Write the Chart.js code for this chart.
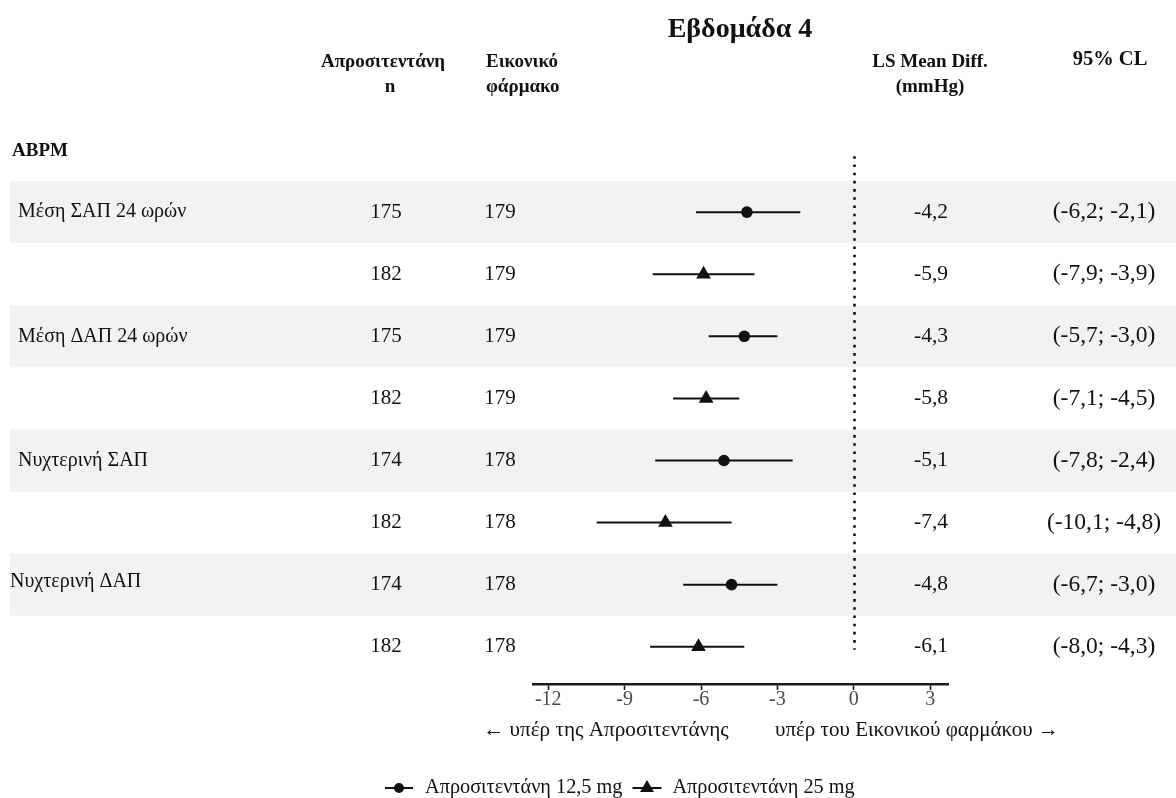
<!DOCTYPE html>
<html lang="el">
<head>
<meta charset="utf-8">
<title>Εβδομάδα 4 – ABPM</title>
<script src="https://cdn.jsdelivr.net/npm/chart.js@4.4.1/dist/chart.umd.min.js"></script>
<style>
  html, body { margin: 0; padding: 0; background: #ffffff; }
  #wrap { width: 1176px; height: 798px; position: relative; }
  canvas { display: block; }
</style>
</head>
<body>
<div id="wrap"><canvas id="forest" width="1176" height="798"></canvas></div>
<script>
// ---- data ----
const rowLabels   = ["Μέση ΣΑΠ 24 ωρών", "", "Μέση ΔΑΠ 24 ωρών", "", "Νυχτερινή ΣΑΠ", "", "Νυχτερινή ΔΑΠ", ""];
const doseArm     = ["12.5", "25", "12.5", "25", "12.5", "25", "12.5", "25"];
const nAprocitentan = [175, 182, 175, 182, 174, 182, 174, 182];
const nPlacebo      = [179, 179, 179, 179, 178, 178, 178, 178];
const lsMeanDiff    = [-4.2, -5.9, -4.3, -5.8, -5.1, -7.4, -4.8, -6.1];
const ciLower       = [-6.2, -7.9, -5.7, -7.1, -7.8, -10.1, -6.7, -8.0];
const ciUpper       = [-2.1, -3.9, -3.0, -4.5, -2.4, -4.8, -3.0, -4.3];
const xTickValues   = [-12, -9, -6, -3, 0, 3];
const legendLabels  = ["Απροσιτεντάνη 12,5 mg", "Απροσιτεντάνη 25 mg"];

// ---- helpers ----
const SERIF = '"Liberation Serif", "DejaVu Serif", serif';
const INK = '#111111';
const fmt = v => v.toFixed(1).replace('.', ',');
const rowIdx = rowLabels.map((_, i) => i);

const circlePts   = rowIdx.filter(i => doseArm[i] === "12.5").map(i => ({ x: lsMeanDiff[i], y: i }));
const trianglePts = rowIdx.filter(i => doseArm[i] === "25").map(i => ({ x: lsMeanDiff[i], y: i }));

function text(ctx, str, x, y, opts = {}) {
  ctx.save();
  ctx.font = `${opts.bold ? 'bold ' : ''}${opts.size || 21}px ${SERIF}`;
  ctx.fillStyle = opts.color || INK;
  ctx.textAlign = opts.align || 'left';
  ctx.textBaseline = 'middle';
  ctx.fillText(str, x, y);
  const w = ctx.measureText(str).width;
  ctx.restore();
  return w;
}

// striped row bands behind everything
const bandsPlugin = {
  id: 'bands',
  beforeDraw(chart) {
    const { ctx } = chart;
    const ys = chart.scales.y;
    ctx.save();
    ctx.fillStyle = '#f2f2f2';
    rowIdx.forEach(i => {
      if (i % 2 !== 0) return;
      const top = ys.getPixelForValue(i - 0.5);
      const bot = ys.getPixelForValue(i + 0.5);
      ctx.fillRect(10, top, chart.width - 10, bot - top);
    });
    ctx.restore();
  }
};

// confidence interval whiskers and the zero reference line
const whiskerPlugin = {
  id: 'whiskers',
  beforeDatasetsDraw(chart) {
    const { ctx } = chart;
    const xs = chart.scales.x, ys = chart.scales.y;
    ctx.save();
    // dotted line at zero
    const x0 = Math.round(xs.getPixelForValue(0)) + 0.5;
    ctx.strokeStyle = INK;
    ctx.lineWidth = 2.6;
    ctx.setLineDash([2.6, 5.6]);
    ctx.beginPath();
    ctx.moveTo(x0, ys.getPixelForValue(-0.9));
    ctx.lineTo(x0, ys.getPixelForValue(7.05));
    ctx.stroke();
    ctx.setLineDash([]);
    // CI lines
    ctx.lineWidth = 2;
    ctx.strokeStyle = INK;
    rowIdx.forEach(i => {
      const y = ys.getPixelForValue(i);
      ctx.beginPath();
      ctx.moveTo(xs.getPixelForValue(ciLower[i]), y);
      ctx.lineTo(xs.getPixelForValue(ciUpper[i]), y);
      ctx.stroke();
    });
    ctx.restore();
  }
};

// table columns, headers, axis captions and legend
const tablePlugin = {
  id: 'table',
  afterDraw(chart) {
    const { ctx } = chart;
    const ys = chart.scales.y;

    text(ctx, 'Εβδομάδα 4', 740, 30, { bold: true, size: 28, align: 'center' });
    text(ctx, 'Απροσιτεντάνη', 383, 62, { bold: true, size: 19, align: 'center' });
    text(ctx, 'n', 390, 87, { bold: true, size: 19, align: 'center' });
    text(ctx, 'Εικονικό', 486, 62, { bold: true, size: 19 });
    text(ctx, 'φάρμακο', 486, 87, { bold: true, size: 19 });
    text(ctx, 'LS Mean Diff.', 930, 62, { bold: true, size: 19, align: 'center' });
    text(ctx, '(mmHg)', 930, 87, { bold: true, size: 19, align: 'center' });
    text(ctx, '95% CL', 1110, 60, { bold: true, size: 20.5, align: 'center' });
    text(ctx, 'ABPM', 12, 151, { bold: true, size: 19 });

    rowIdx.forEach(i => {
      const y = ys.getPixelForValue(i);
      if (rowLabels[i]) text(ctx, rowLabels[i], i === 6 ? 10 : 18, i === 6 ? y - 3 : y, { size: 20 });
      text(ctx, String(nAprocitentan[i]), 386, y, { align: 'center' });
      text(ctx, String(nPlacebo[i]), 500, y, { align: 'center' });
      text(ctx, fmt(lsMeanDiff[i]), 948, y, { align: 'right', size: 21.5 });
      text(ctx, '(' + fmt(ciLower[i]) + '; ' + fmt(ciUpper[i]) + ')', 1104, y, { align: 'center', size: 23.5 });
    });

    text(ctx, '← υπέρ της Απροσιτεντάνης', 483, 730, { size: 21.2 });
    text(ctx, 'υπέρ του Εικονικού φαρμάκου →', 775, 730, { size: 21 });

    // legend
    const ly = 788;
    ctx.save();
    ctx.strokeStyle = INK; ctx.fillStyle = INK; ctx.lineWidth = 2;
    ctx.beginPath(); ctx.moveTo(385, ly); ctx.lineTo(413, ly); ctx.stroke();
    ctx.beginPath(); ctx.arc(399, ly, 5, 0, Math.PI * 2); ctx.fill();
    ctx.restore();
    const w1 = text(ctx, legendLabels[0], 425, ly, { size: 20.3 });
    const tx = 425 + w1 + 10;
    ctx.save();
    ctx.strokeStyle = INK; ctx.fillStyle = INK; ctx.lineWidth = 2;
    ctx.beginPath(); ctx.moveTo(tx, ly); ctx.lineTo(tx + 29, ly); ctx.stroke();
    const tc = tx + 14.5;
    ctx.beginPath();
    ctx.moveTo(tc, ly - 8); ctx.lineTo(tc + 7, ly + 4); ctx.lineTo(tc - 7, ly + 4);
    ctx.closePath(); ctx.fill();
    ctx.restore();
    text(ctx, legendLabels[1], tx + 40, ly, { size: 20.3 });
  }
};

new Chart(document.getElementById('forest'), {
  type: 'scatter',
  data: {
    datasets: [
      { label: legendLabels[0], data: circlePts, pointStyle: 'circle', pointRadius: 5.8,
        backgroundColor: INK, borderColor: INK, borderWidth: 0 },
      { label: legendLabels[1], data: trianglePts, pointStyle: 'triangle', pointRadius: 8.5,
        backgroundColor: INK, borderColor: INK, borderWidth: 0 }
    ]
  },
  options: {
    responsive: false,
    animation: false,
    events: [],
    layout: { padding: { left: 533, right: 228, top: 119, bottom: 0 } },
    plugins: { legend: { display: false }, tooltip: { enabled: false }, title: { display: false } },
    scales: {
      x: {
        type: 'linear',
        min: -12.6, max: 3.7,
        afterBuildTicks(scale) { scale.ticks = xTickValues.map(v => ({ value: v })); },
        afterFit(scale) { scale.height = 114; },
        border: { display: true, color: '#1a1a1a', width: 2.5 },
        grid: { display: true, drawOnChartArea: false, drawTicks: true, tickLength: 6, tickWidth: 1.6, tickColor: '#1a1a1a' },
        ticks: { padding: -2, color: '#4a4a4a', font: { family: SERIF, size: 20 },
                 maxRotation: 0, autoSkip: false, callback: v => String(v) }
      },
      y: {
        type: 'linear',
        min: -1.5, max: 7.6,
        reverse: true,
        display: false
      }
    }
  },
  plugins: [bandsPlugin, whiskerPlugin, tablePlugin]
});
</script>
</body>
</html>
